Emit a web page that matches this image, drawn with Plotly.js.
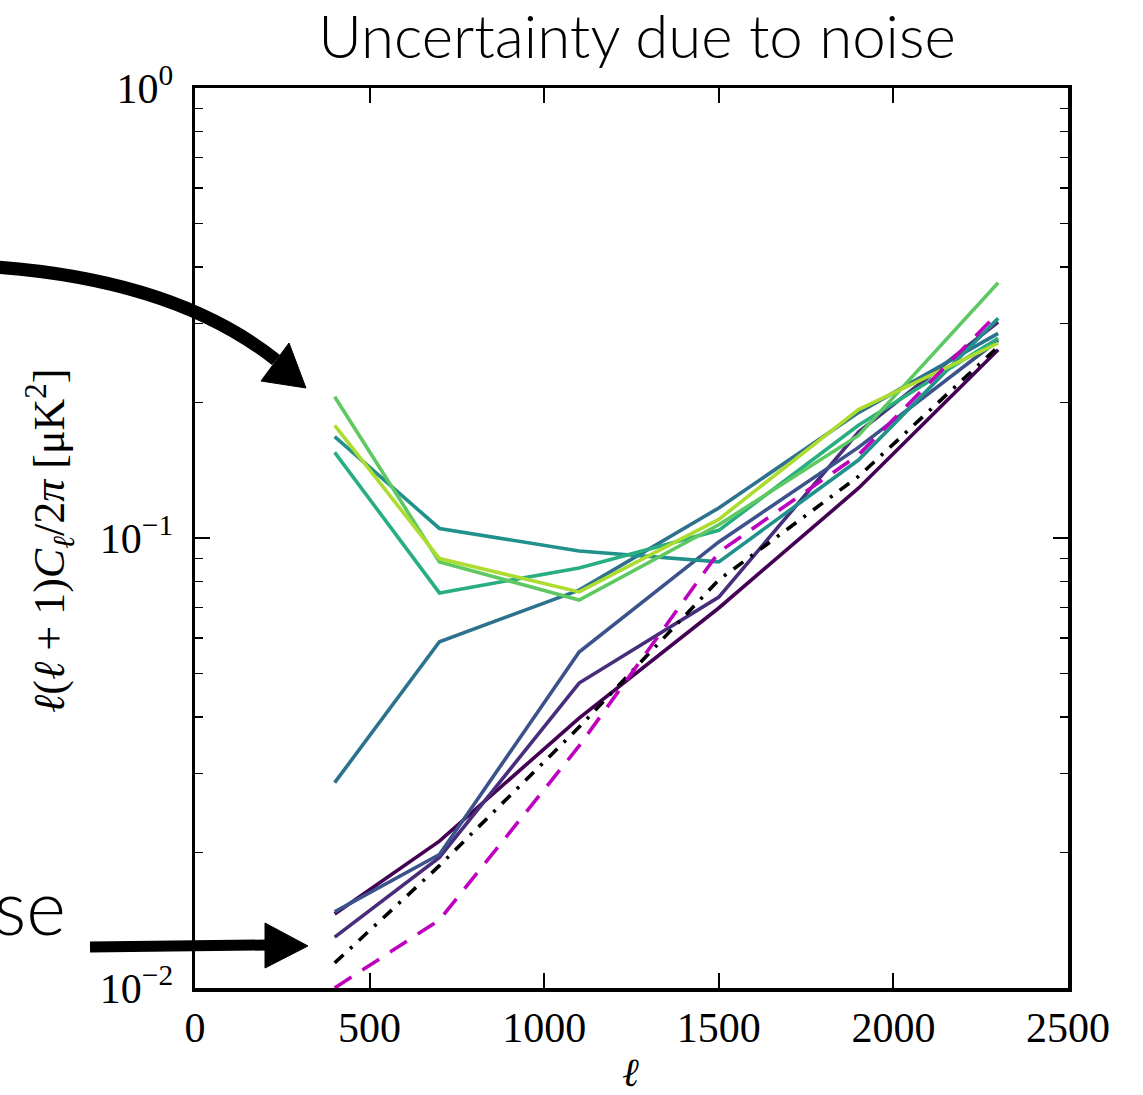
<!DOCTYPE html>
<html>
<head>
<meta charset="utf-8">
<script src="https://cdn.plot.ly/plotly-3.0.1.min.js"></script>
<style>html,body{margin:0;padding:0;background:#fff;}#chart{width:1143px;height:1095px;}</style>
</head>
<body>
<div id="chart"></div>
<script>
// multipole bins
const ell = [400, 700, 1100, 1500, 1900, 2300];

// viridis-coloured curves (dark -> light)
const curve1 = [0.0146, 0.0212, 0.0398, 0.0699, 0.129, 0.262];
const curve2 = [0.01297, 0.0195, 0.0476, 0.0739, 0.172, 0.302];
const curve3 = [0.01476, 0.0198, 0.0558, 0.098, 0.159, 0.275];
const curve4 = [0.0286, 0.0588, 0.0766, 0.1166, 0.190, 0.285];
const curve5 = [0.168, 0.105, 0.0936, 0.0885, 0.149, 0.308];
const curve6 = [0.155, 0.0755, 0.0858, 0.104, 0.178, 0.278];
const curve7 = [0.206, 0.0885, 0.0728, 0.107, 0.169, 0.369];
const curve8 = [0.178, 0.0900, 0.0759, 0.110, 0.193, 0.271];
// reference curves
const blackDashDot = [0.01137, 0.0187, 0.038, 0.0807, 0.137, 0.266];
const magentaDashed = [0.0100, 0.01416, 0.0345, 0.093, 0.153, 0.316];

const viridisColors = ['#440154', '#472d7b', '#3b528b', '#2c728e', '#21918c', '#28ae80', '#5ec962', '#addc30'];
const curves = [curve1, curve2, curve3, curve4, curve5, curve6, curve7, curve8];

const yMajorVals = [0.01, 0.1, 1];
const yMajorText = ['10<sup>−2</sup>', '10<sup>−1</sup>', '10<sup>0</sup>'];
const yMinorVals = [0.02,0.03,0.04,0.05,0.06,0.07,0.08,0.09,0.2,0.3,0.4,0.5,0.6,0.7,0.8,0.9];
const xTickVals = [0, 500, 1000, 1500, 2000, 2500];

const traces = curves.map((c, i) => ({
  x: ell, y: c, type: 'scatter', mode: 'lines',
  line: {color: viridisColors[i], width: 3.6},
  showlegend: false, hoverinfo: 'skip'
}));
traces.push({x: ell, y: blackDashDot, type: 'scatter', mode: 'lines',
  line: {color: '#000000', width: 3.6, dash: '12px,9px,3px,9px'}, showlegend: false, hoverinfo: 'skip'});
traces.push({x: ell, y: magentaDashed, type: 'scatter', mode: 'lines',
  line: {color: '#bf00bf', width: 3.6, dash: '20px,13px'}, showlegend: false, hoverinfo: 'skip'});
traces.push({x: [], y: [], yaxis: 'y2', type: 'scatter', mode: 'lines', showlegend: false, hoverinfo: 'skip'});

// pixel -> paper helpers for decorative arrows (plot area: x 195..1068, y 88..988)
const L = 195, R = 1068, T = 88, B = 988;
const px = v => ((v - L) / (R - L)).toFixed(4);
const py = v => ((B - v) / (B - T)).toFixed(4);

const shapes = [
  {type: 'path', xref: 'paper', yref: 'paper',
   path: `M ${px(-5)} ${py(267)} Q ${px(175)} ${py(280)} ${px(276)} ${py(360)}`,
   line: {color: '#000', width: 13}},
  {type: 'path', xref: 'paper', yref: 'paper',
   path: `M ${px(289)} ${py(343)} L ${px(261)} ${py(381)} L ${px(306)} ${py(388)} Z`,
   fillcolor: '#000', line: {color: '#000', width: 1}},
  {type: 'path', xref: 'paper', yref: 'paper',
   path: `M ${px(90)} ${py(947)} L ${px(268)} ${py(945)}`,
   line: {color: '#000', width: 11}},
  {type: 'path', xref: 'paper', yref: 'paper',
   path: `M ${px(265)} ${py(923)} L ${px(265)} ${py(968)} L ${px(308)} ${py(946)} Z`,
   fillcolor: '#000', line: {color: '#000', width: 1}}
];

const serif = '"Liberation Serif", "Times New Roman", serif';
const sans = 'Lato, "Open Sans", "Liberation Sans", sans-serif';

const layout = {
  width: 1143, height: 1095,
  margin: {l: 195, r: 75, t: 88, b: 107},
  paper_bgcolor: '#fff', plot_bgcolor: '#fff',
  title: {text: 'Uncertainty due to noise', x: 637/1143, xanchor: 'center', xref: 'container',
          y: 1 - 37/1095, yanchor: 'middle', yref: 'container',
          font: {family: sans, size: 60, weight: 300, color: '#000'}},
  xaxis: {range: [0, 2500], tickvals: xTickVals, ticktext: xTickVals.map(String),
          ticks: 'inside', ticklen: 15, tickwidth: 2, tickcolor: '#000',
          showline: true, linewidth: 3.5, linecolor: '#000', mirror: 'ticks',
          showgrid: false, zeroline: false, ticklabelstandoff: 0,
          tickfont: {family: serif, size: 42, color: '#000'}},
  yaxis: {type: 'log', range: [-2, 0], tickvals: yMajorVals, ticktext: yMajorText,
          ticks: 'inside', ticklen: 15, tickwidth: 2, tickcolor: '#000',
          showline: true, linewidth: 3.5, linecolor: '#000', mirror: 'ticks',
          showgrid: false, zeroline: false, ticklabelstandoff: 10,
          tickfont: {family: serif, size: 42, color: '#000'}},
  yaxis2: {type: 'log', range: [-2, 0], overlaying: 'y', side: 'left', tickvals: yMinorVals,
           ticks: 'inside', ticklen: 8, tickwidth: 1.5, tickcolor: '#000',
           showticklabels: false, showline: false, mirror: 'ticks', showgrid: false, zeroline: false},
  shapes: shapes,
  annotations: [
    {text: '<i>ℓ</i>(<i>ℓ</i> + 1)<i>C</i><sub><i>ℓ</i></sub>/2<i>π</i> [μK<sup>2</sup>]',
     xref: 'paper', yref: 'paper', x: px(50), y: py(541), xanchor: 'center', yanchor: 'middle',
     textangle: -90, showarrow: false,
     font: {family: serif, size: 44, color: '#000'}},
    {text: '<i>ℓ</i>', xref: 'paper', yref: 'paper', x: px(630), y: py(1073),
     xanchor: 'center', yanchor: 'middle', showarrow: false,
     font: {family: serif, size: 40, color: '#000'}},
    {text: 'se', xref: 'paper', yref: 'paper', x: px(68), y: py(905),
     xanchor: 'right', yanchor: 'middle', showarrow: false,
     font: {family: sans, size: 76, weight: 300, color: '#000'}}
  ]
};

Plotly.newPlot('chart', traces, layout, {displayModeBar: false, staticPlot: true});
</script>
</body>
</html>
